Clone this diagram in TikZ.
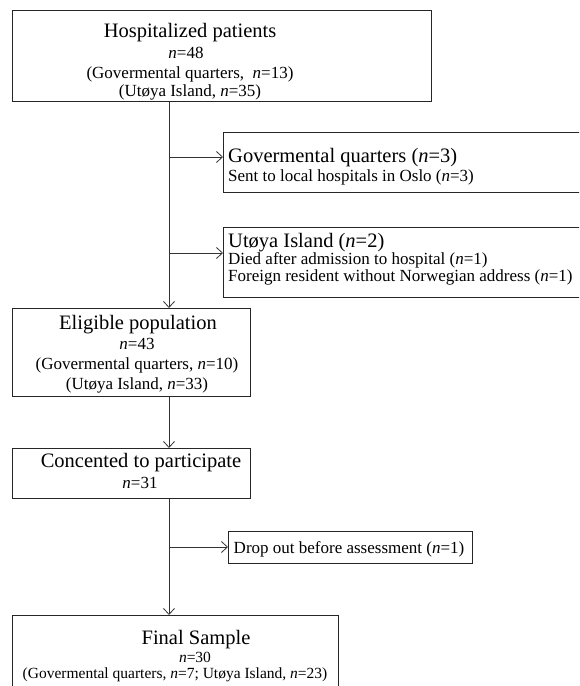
\documentclass[tikz,border=0pt]{standalone}
\usepackage{fontspec}
\setmainfont{Liberation Serif}
\usetikzlibrary{arrows.meta}
\newcommand{\fsA}{\fontsize{20.5}{24}\selectfont}
\newcommand{\fsB}{\fontsize{17}{20}\selectfont}
\newcommand{\fsC}{\fontsize{15.5}{18}\selectfont}
\newcommand{\nn}{\textit{n}}
\tikzset{
  box/.style={draw=black!85, line width=0.9pt, inner sep=0pt, anchor=north west},
  tA/.style={font=\fsA, anchor=base, inner sep=0pt},
  tB/.style={font=\fsB, anchor=base, inner sep=0pt},
  tC/.style={font=\fsC, anchor=base, inner sep=0pt},
  tAl/.style={tA, anchor=base west},
  tBl/.style={tB, anchor=base west},
  arr/.style={draw=black!80, line width=0.9pt, -{Straight Barb[length=6pt,width=11pt,line width=0.8pt]}}
}
\begin{document}
\begin{tikzpicture}[x=1pt,y=-1pt]
\useasboundingbox (0,0) rectangle (579,686);
\clip (0,0) rectangle (579,686);
% boxes
\node[box, minimum width=419, minimum height=91] (hosp) at (12,10) {};
\node[box, minimum width=400, minimum height=60] (gov) at (223,132) {};
\node[box, minimum width=400, minimum height=70] (uto) at (223,227) {};
\node[box, minimum width=238, minimum height=88] (elig) at (12,308) {};
\node[box, minimum width=238, minimum height=50] (cons) at (12,448) {};
\node[box, minimum width=244, minimum height=32] (drop) at (228,531) {};
\node[box, minimum width=326, minimum height=90] (fin) at (12,615) {};
% texts
\node[tA] (hosp1) at (190,37) {Hospitalized patients};
\node[tB] (hosp2) at (186,58) {\nn=48};
\node[tB] (hosp3) at (190,78) {(Govermental quarters,\ \ \nn=13)};
\node[tB] (hosp4) at (190,96) {(Utøya Island, \nn=35)};
\node[tAl] (gov1) at (228,162) {Govermental quarters (\nn=3)};
\node[tBl] (gov2) at (228,181) {Sent to local hospitals in Oslo (\nn=3)};
\node[tAl] (uto1) at (228,247) {Utøya Island (\nn=2)};
\node[tBl] (uto2) at (228,264) {Died after admission to hospital (\nn=1)};
\node[tBl] (uto3) at (228,281) {Foreign resident without Norwegian address (\nn=1)};
\node[tA] (elig1) at (138,329) {Eligible population};
\node[tB] (elig2) at (137,349) {\nn=43};
\node[tB] (elig3) at (137,369) {(Govermental quarters, \nn=10)};
\node[tB] (elig4) at (137,389) {(Utøya Island, \nn=33)};
\node[tA] (cons1) at (141,467) {Concented to participate};
\node[tB] (cons2) at (140,488) {\nn=31};
\node[tB] (drop1) at (349,553) {Drop out before assessment (\nn=1)};
\node[tA] (fin1) at (196,644) {Final Sample};
\node[tC] (fin2) at (195,662) {\nn=30};
\node[tC] (fin3) at (175,678) {(Govermental quarters, \nn=7; Utøya Island, \nn=23)};
% connectors
\coordinate (t1) at (169,157);
\coordinate (t2) at (169,253);
\coordinate (t3) at (169,547);
\draw[arr] (hosp.south -| t1) -- (elig.north -| t1);
\draw[arr] (t1) -- (t1 -| gov.west);
\draw[arr] (t2) -- (t2 -| uto.west);
\draw[arr] (elig.south -| t1) -- (cons.north -| t1);
\draw[arr] (cons.south -| t3) -- (fin.north -| t3);
\draw[arr] (t3) -- (t3 -| drop.west);
\end{tikzpicture}
\end{document}
